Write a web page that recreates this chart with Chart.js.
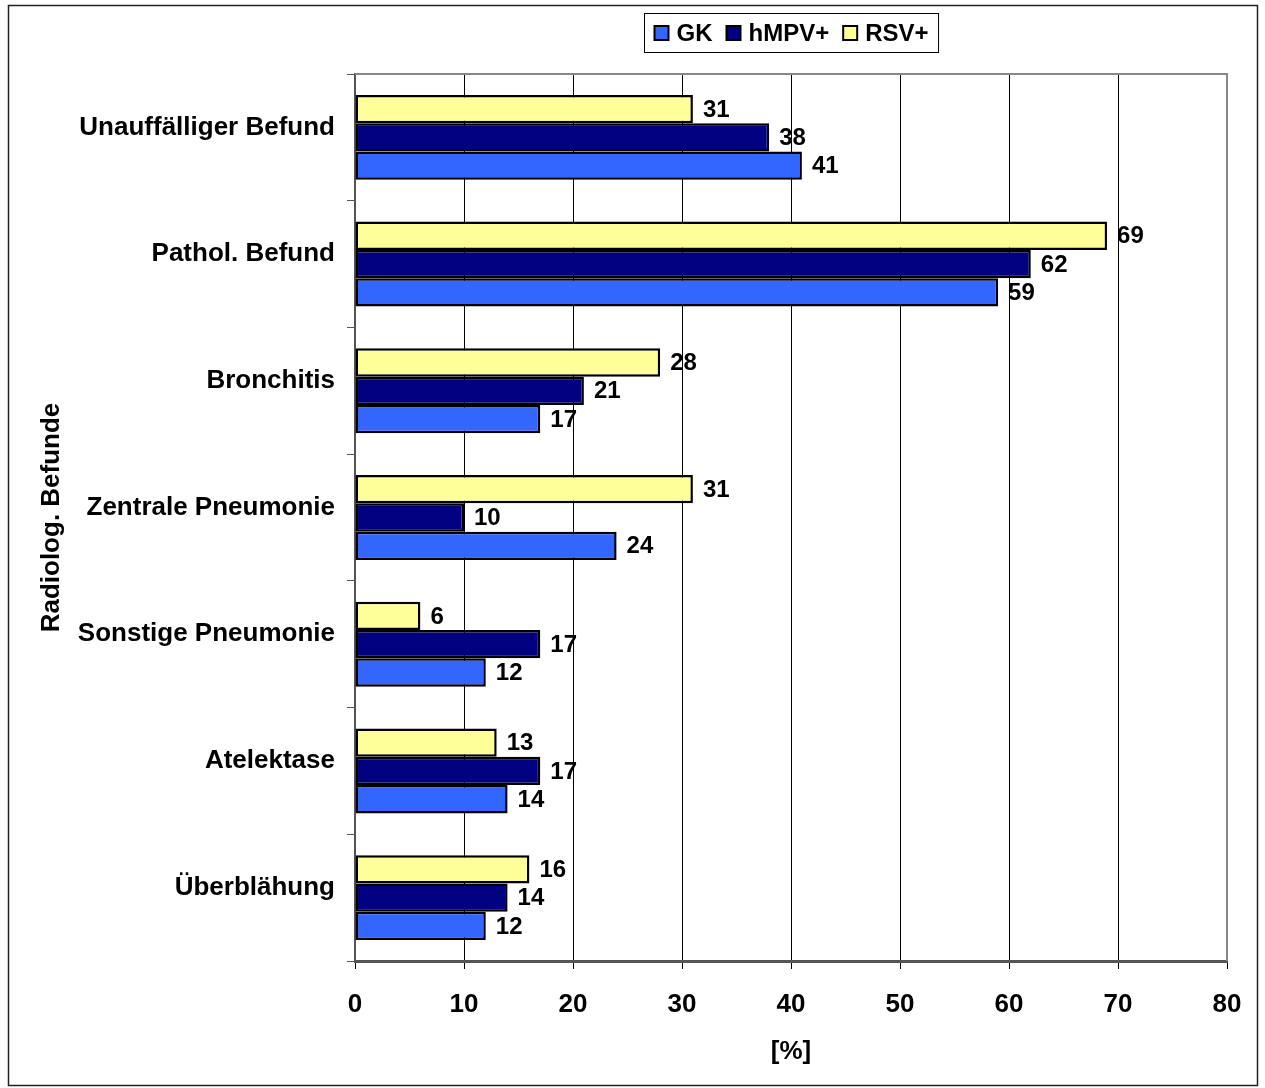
<!DOCTYPE html>
<html>
<head>
<meta charset="utf-8">
<title>Radiolog. Befunde</title>
<script src="https://cdn.jsdelivr.net/npm/chart.js@4.4.0/dist/chart.umd.min.js"></script>
<style>
	body { margin: 0; background: #fff; overflow: hidden; }
	#wrap { position: relative; width: 1265px; height: 1088px; }
</style>
</head>
<body>
<div id="wrap"><canvas id="befunde"></canvas></div>
<script>
// findings per group, in percent
let categories = ["Unauffälliger Befund", "Pathol. Befund", "Bronchitis", "Zentrale Pneumonie", "Sonstige Pneumonie", "Atelektase", "Überblähung"];
let valuesRSV = [31, 69, 28, 31, 6, 13, 16];
let valuesHMPV = [38, 62, 21, 10, 17, 17, 14];
let valuesGK = [41, 59, 17, 24, 12, 14, 12];
let xMin = 0;
let xMax = 80;
let xStep = 10;

const fontFamily = "'Liberation Sans', Arial, sans-serif";
const axisFont = { family: fontFamily, size: 26, weight: 'bold' };

// outer frame of the whole figure
const framePlugin = {
	id: 'frame',
	beforeDraw(chart) {
		let ctx = chart.ctx;
		ctx.save();
		ctx.fillStyle = '#fff';
		ctx.fillRect(0, 0, chart.width, chart.height);
		ctx.strokeStyle = '#222';
		ctx.lineWidth = 1.5;
		ctx.strokeRect(8.5, 5.5, 1249, 1080);
		ctx.restore();
	}
};

// value next to each bar
const valueLabels = {
	id: 'valueLabels',
	afterDatasetsDraw(chart) {
		let ctx = chart.ctx;
		ctx.save();
		ctx.font = "bold 24px " + fontFamily;
		ctx.fillStyle = '#000';
		ctx.textAlign = 'left';
		ctx.textBaseline = 'middle';
		chart.data.datasets.forEach(function (ds, i) {
			chart.getDatasetMeta(i).data.forEach(function (bar, j) {
				ctx.fillText(ds.data[j], bar.x + 10, bar.y + 1);
			});
		});
		ctx.restore();
	}
};

// gray top/right edge of the plot and the boxed legend
const boxLegend = {
	id: 'boxLegend',
	afterDraw(chart) {
		let ctx = chart.ctx;
		let area = chart.chartArea;
		ctx.save();
		ctx.strokeStyle = '#888';
		ctx.lineWidth = 2;
		ctx.beginPath();
		ctx.moveTo(area.left, area.top);
		ctx.lineTo(area.right, area.top);
		ctx.lineTo(area.right, area.bottom);
		ctx.stroke();

		// legend lists GK, hMPV+, RSV+ (reverse of stacking order)
		let items = chart.data.datasets.slice().reverse();
		ctx.font = "bold 24px " + fontFamily;
		let sw = 14, gapSw = 8, gapItem = 14, pad = 10;
		let total = 0;
		items.forEach(function (ds, k) {
			total += sw + gapSw + ctx.measureText(ds.label).width;
			if (k < items.length - 1) total += gapItem;
		});
		let boxW = total + pad * 2;
		let boxH = 39;
		let cx = (area.left + area.right) / 2;
		let bx = Math.round(cx - boxW / 2) + 0.5;
		let by = 13.5;
		ctx.fillStyle = '#fff';
		ctx.fillRect(bx, by, boxW, boxH);
		ctx.strokeStyle = '#000';
		ctx.lineWidth = 1;
		ctx.strokeRect(bx, by, boxW, boxH);
		let x = bx + pad;
		let my = by + boxH / 2;
		ctx.textBaseline = 'middle';
		ctx.textAlign = 'left';
		items.forEach(function (ds) {
			ctx.fillStyle = ds.backgroundColor;
			ctx.fillRect(x, my - sw / 2, sw, sw);
			ctx.lineWidth = 2;
			ctx.strokeRect(x, my - sw / 2, sw, sw);
			x += sw + gapSw;
			ctx.fillStyle = '#000';
			ctx.fillText(ds.label, x, my + 1);
			x += ctx.measureText(ds.label).width + gapItem;
		});
		ctx.restore();
	}
};

let ctx = document.getElementById('befunde').getContext('2d');
let chart = new Chart(ctx, {
	type: 'bar',
	data: {
		labels: categories,
		datasets: [
			{ label: 'RSV+', data: valuesRSV, backgroundColor: '#FFFF99' },
			{ label: 'hMPV+', data: valuesHMPV, backgroundColor: '#000080' },
			{ label: 'GK', data: valuesGK, backgroundColor: '#3366FF' }
		]
	},
	options: {
		indexAxis: 'y',
		animation: false,
		responsive: true,
		maintainAspectRatio: false,
		layout: { padding: { top: 74, right: 38, bottom: 0, left: 0 } },
		datasets: {
			bar: {
				categoryPercentage: 0.67,
				barPercentage: 1.0,
				borderWidth: 2.5,
				borderColor: '#000',
				borderSkipped: false
			}
		},
		plugins: {
			legend: { display: false },
			tooltip: { enabled: false }
		},
		scales: {
			x: {
				min: xMin,
				max: xMax,
				ticks: { stepSize: xStep, color: '#000', font: axisFont, padding: 20 },
				grid: { color: '#000', lineWidth: 1, tickLength: 8, tickColor: '#000' },
				border: { color: '#555', width: 3 },
				title: { display: true, text: '[%]', color: '#000', font: axisFont, padding: { bottom: 21 } },
				afterFit: function (scale) { scale.height = 127; }
			},
			y: {
				ticks: { color: '#000', font: axisFont, padding: 12, labelOffset: -10 },
				grid: { drawOnChartArea: false, offset: true, tickLength: 8, color: '#555' },
				border: { color: '#555', width: 2 },
				title: { display: true, text: 'Radiolog. Befunde', color: '#000', font: axisFont, padding: { top: 36 } },
				afterFit: function (scale) { scale.width = 355; }
			}
		}
	},
	plugins: [framePlugin, valueLabels, boxLegend]
});
</script>
</body>
</html>
